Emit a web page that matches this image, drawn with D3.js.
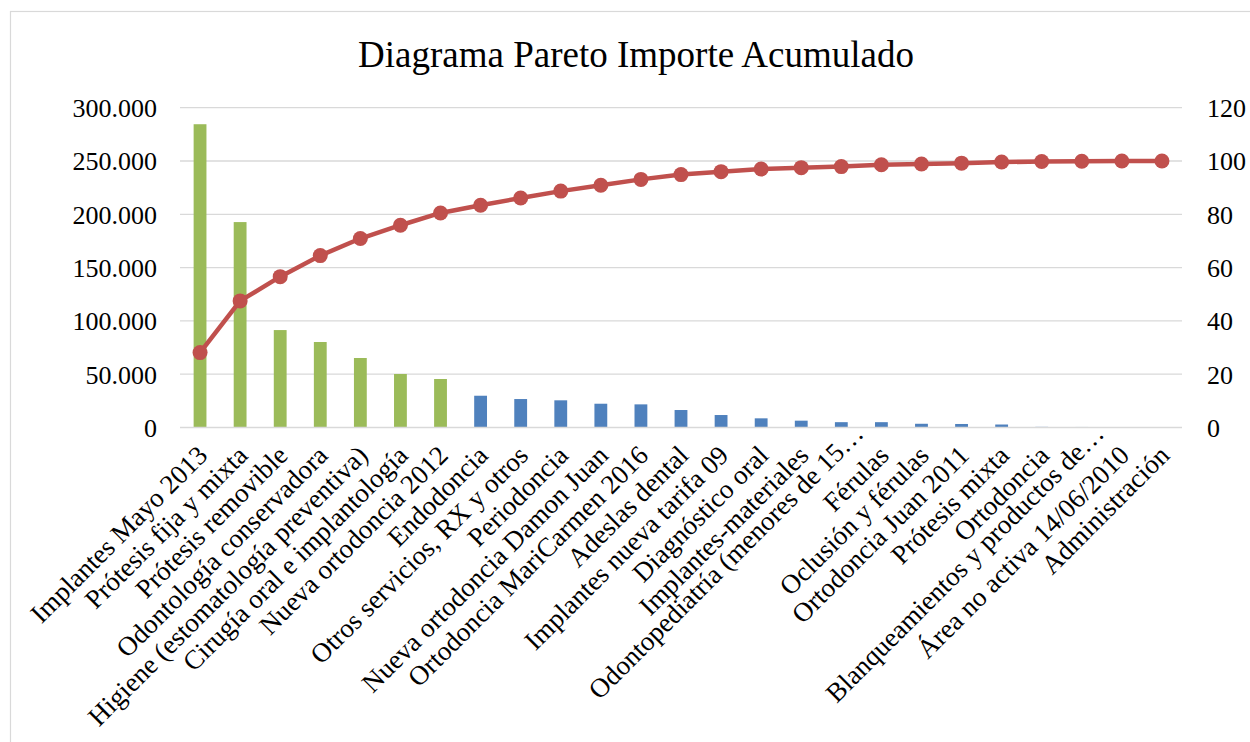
<!DOCTYPE html>
<html>
<head>
<meta charset="utf-8">
<script src="https://cdn.jsdelivr.net/npm/d3@7"></script>
<style>
  body { margin: 0; background: #fff; }
  text { font-family: "Liberation Serif", "Times New Roman", serif; fill: #000; }
</style>
</head>
<body>
<svg id="chart" width="1250" height="742"></svg>
<script>
// Chart data
const categories = [
    "Implantes Mayo 2013", "Prótesis fija y mixta", "Prótesis removible",
    "Odontología conservadora", "Higiene (estomatología preventiva)",
    "Cirugía oral e implantología", "Nueva ortodoncia 2012", "Endodoncia",
    "Otros servicios, RX y otros", "Periodoncia", "Nueva ortodoncia Damon Juan",
    "Ortodoncia MariCarmen 2016", "Adeslas dental", "Implantes nueva tarifa 09",
    "Diagnóstico oral", "Implantes-materiales", "Odontopediatría (menores de 15…",
    "Férulas", "Oclusión y férulas", "Ortodoncia Juan 2011", "Prótesis mixta",
    "Ortodoncia", "Blanqueamientos y productos de…", "Área no activa 14/06/2010",
    "Administración"
];
const importe = [284500, 192700, 91400, 80200, 65200, 50200, 45500, 29800, 26700,
    25500, 22300, 21700, 16400, 11700, 8600, 6400, 5000, 5000, 3500, 3300, 2800,
    600, 500, 0, 0];
const acumulado = [28.1, 47.5, 56.6, 64.5, 70.9, 75.9, 80.5, 83.4, 86.1, 88.7,
    90.9, 93.1, 94.9, 96.0, 97.0, 97.5, 97.9, 98.6, 98.9, 99.2, 99.6, 99.8, 99.9,
    100, 100];
const nVitales = 7; // first categories shown in green
const leftTicks = [0, 50000, 100000, 150000, 200000, 250000, 300000];
const rightTicks = [0, 20, 40, 60, 80, 100, 120];

const svg = d3.select('#chart');
const plot = { left: 180, right: 1182, top: 107.7, bottom: 427.5 };

// chart border
svg.append("rect")
    .attr("x", 10.5).attr("y", 11.5)
    .attr("width", 1300).attr("height", 800)
    .attr("fill", "none")
    .attr("stroke", "#d9d9d9")
    .attr("stroke-width", 1.2);

// title
svg.append("text")
    .attr("x", 636).attr("y", 67)
    .attr("text-anchor", "middle")
    .style("font-size", "37px")
    .text("Diagrama Pareto Importe Acumulado");

const x = d3.scaleBand()
    .domain(categories)
    .range([plot.left, plot.right])
    .paddingInner(0.68)
    .paddingOuter(0.34);
const yLeft = d3.scaleLinear().domain([0, 300000]).range([plot.bottom, plot.top]);
const yRight = d3.scaleLinear().domain([0, 120]).range([plot.bottom, plot.top]);

const esLocale = d3.formatLocale({ decimal: ",", thousands: ".", grouping: [3], currency: ["", "€"] });
const fmt = esLocale.format(",d");

// gridlines
svg.append("g")
    .selectAll("line")
    .data(leftTicks.slice(1))
    .join("line")
    .attr("x1", plot.left).attr("x2", plot.right)
    .attr("y1", d => yLeft(d)).attr("y2", d => yLeft(d))
    .attr("stroke", "#d9d9d9")
    .attr("stroke-width", 1.3);

// bars
svg.append("g")
    .selectAll("rect")
    .data(importe)
    .join("rect")
    .attr("x", (d, i) => x(categories[i]))
    .attr("y", d => yLeft(d))
    .attr("width", x.bandwidth())
    .attr("height", d => yLeft(0) - yLeft(d))
    .attr("fill", (d, i) => i < nVitales ? "#9bbb59" : "#4f81bd");

// category axis line
svg.append("line")
    .attr("x1", plot.left).attr("x2", plot.right)
    .attr("y1", plot.bottom).attr("y2", plot.bottom)
    .attr("stroke", "#d9d9d9")
    .attr("stroke-width", 1.5);

// left axis
const gLeft = svg.append("g")
    .attr("transform", `translate(${plot.left},0)`)
    .call(d3.axisLeft(yLeft).tickValues(leftTicks).tickFormat(fmt).tickSize(0).tickPadding(23));
gLeft.select(".domain").remove();
gLeft.selectAll("text").style("font-size", "26px").attr("dy", "0.34em")
    .style("font-family", "Liberation Serif");

// right axis
const gRight = svg.append("g")
    .attr("transform", `translate(${plot.right},0)`)
    .call(d3.axisRight(yRight).tickValues(rightTicks).tickSize(0).tickPadding(25));
gRight.select(".domain").remove();
gRight.selectAll("text").style("font-size", "26px").attr("dy", "0.34em")
    .style("font-family", "Liberation Serif");

// rotated category labels (truncated ones sit a little further out)
svg.append("g")
    .selectAll("text")
    .data(categories)
    .join("text")
    .attr("transform", d => `translate(${x(d) + x.bandwidth() / 2 + 9},457) rotate(-45)`)
    .attr("text-anchor", "end")
    .attr("dx", d => d.endsWith("…") ? 26 : 0)
    .attr("dy", d => d.endsWith("…") ? -5 : 0)
    .style("font-size", "27px")
    .text(d => d);

// cumulative line
const line = d3.line()
    .x((d, i) => x(categories[i]) + x.bandwidth() / 2)
    .y(d => yRight(d));

svg.append("path")
    .datum(acumulado)
    .attr("fill", "none")
    .attr("stroke", "#c0504d")
    .attr("stroke-width", 4.5)
    .attr("stroke-linejoin", "round")
    .attr("d", line);

svg.append("g")
    .selectAll("circle")
    .data(acumulado)
    .join("circle")
    .attr("cx", (d, i) => x(categories[i]) + x.bandwidth() / 2)
    .attr("cy", d => yRight(d))
    .attr("r", 7.5)
    .attr("fill", "#c0504d");
</script>
</body>
</html>
